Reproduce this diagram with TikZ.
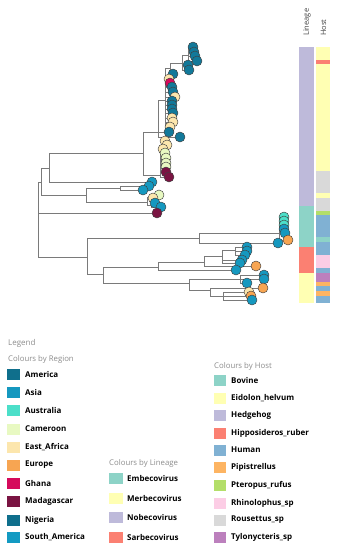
\documentclass[tikz,border=0pt]{standalone}
\usepackage{fontspec}
\setmainfont{Open Sans}
\usetikzlibrary{backgrounds}
\definecolor{treegray}{HTML}{7A7A7A}
\definecolor{hdrgray}{HTML}{8C8C8C}
\definecolor{cAme}{HTML}{0F6F8C}
\definecolor{cAsia}{HTML}{1598BF}
\definecolor{cAus}{HTML}{4CDFC9}
\definecolor{cCam}{HTML}{E8F9C2}
\definecolor{cEaf}{HTML}{FCE6AD}
\definecolor{cEur}{HTML}{F7A552}
\definecolor{cGha}{HTML}{D50A5B}
\definecolor{cMad}{HTML}{7A1442}
\definecolor{cNig}{HTML}{12799A}
\definecolor{cSam}{HTML}{139AC2}
\definecolor{hBov}{HTML}{8DD3C7}
\definecolor{hEid}{HTML}{FFFFB3}
\definecolor{hHed}{HTML}{BEBADA}
\definecolor{hHip}{HTML}{FB8072}
\definecolor{hHum}{HTML}{80B1D3}
\definecolor{hPip}{HTML}{FDB462}
\definecolor{hPte}{HTML}{B3DE69}
\definecolor{hRhi}{HTML}{FCCDE5}
\definecolor{hRou}{HTML}{D9D9D9}
\definecolor{hTyl}{HTML}{BC80BD}
\begin{document}
\begin{tikzpicture}[x=1pt,y=-1pt,
  br/.style={draw=treegray, line width=0.75pt},
  leaf/.style={circle, draw=black!75, line width=0.45pt, minimum size=10pt, inner sep=0pt},
  sw/.style={minimum width=13pt, minimum height=11pt, inner sep=0pt, anchor=west},
  lab/.style={font=\fontsize{8}{9}\selectfont\bfseries, anchor=west, inner sep=0pt},
  hdr/.style={font=\fontsize{7.8}{9}\selectfont, text=hdrgray, anchor=west, inner sep=0pt},
  collab/.style={font=\fontsize{7.5}{9}\selectfont, text=black!75, rotate=90, anchor=west, inner sep=0pt}]
\useasboundingbox (0,0) rectangle (337,550);

% internal nodes
\coordinate (R) at (38,220);
\coordinate (A) at (41,182);
\coordinate (B) at (49,168);
\coordinate (C) at (143,153);
\coordinate (D) at (158,132);
\coordinate (D1) at (165,100);
\coordinate (D2) at (170,68);
\coordinate (D3) at (182,63);
\coordinate (D4) at (188,55);
\coordinate (E) at (160,175);
\coordinate (E1) at (161,150);
\coordinate (F) at (86,195);
\coordinate (G) at (120,188);
\coordinate (H) at (147,202);
\coordinate (H1) at (150,197);
\coordinate (H2) at (151,205);
\coordinate (L) at (87,257);
\coordinate (M) at (199,238);
\coordinate (M1) at (279,233);
\coordinate (N) at (103,274);
\coordinate (O) at (158,267);
\coordinate (O1) at (204,262);
\coordinate (O2) at (222,256);
\coordinate (O3) at (235,250);
\coordinate (P) at (189,283);
\coordinate (P1) at (240,279);
\coordinate (P2) at (210,290);
\coordinate (P3) at (223,296);

% leaves
\foreach \n/\x/\y/\c in {
 1/193/47/cNig, 2/194/52/cNig, 3/195/56/cNig, 4/197/61/cNig, 5/188/65/cNig,
 6/189/70/cNig, 7/173/74/cNig, 8/169/79/cEaf, 9/170/83/cGha, 10/172/87/cNig,
 11/173/92/cNig, 12/175/97/cEaf, 13/172/101/cNig, 14/172/105/cNig, 15/172/109/cNig,
 16/173/113/cNig, 17/172/118/cEaf, 18/173/122/cEaf, 19/170/127/cEaf, 20/169/132/cNig,
 21/180/137/cNig, 22/165/141/cEaf, 23/167/145/cEaf, 24/163/149/cEaf, 25/165/153/cCam,
 26/166/158/cCam, 27/166/163/cCam, 28/166/167/cCam, 29/166/172/cMad, 30/169/177/cMad,
 31/152/182/cAsia, 32/149/186/cAsia, 33/143/190/cAsia, 34/159/195/cCam, 35/153/198/cEaf,
 36/155/203/cAsia, 37/161/207/cAsia, 38/157/213/cMad,
 39/284/217/cAus, 40/284/221/cAus, 41/284/225/cAus, 42/284/229/cAsia, 43/285/233/cAsia,
 44/288/240/cEur, 45/278/243/cAsia, 46/247/247/cAsia, 47/247/251/cAsia, 48/245/255/cAsia,
 49/242/260/cAsia, 50/240/263/cAsia, 51/256/266/cEur, 52/236/270/cAsia, 53/264/275/cAsia,
 54/264/279/cAsia, 55/247/283/cAsia, 56/263/288/cEur, 57/249/292/cEaf, 58/251/296/cEur,
 59/252/300/cAsia}
  \node[leaf, fill=\c] (l\n) at (\x,\y) {};

% branches
\begin{pgfonlayer}{background}
\foreach \p/\c in {R/A, R/l38, R/L, A/B, A/F, B/C, B/l31, C/D, C/E,
  D/D1, D/l21, D/l20, D1/D2, D1/l8, D1/l9, D1/l10, D1/l11, D1/l12, D1/l13, D1/l14,
  D1/l15, D1/l16, D1/l17, D1/l18, D1/l19, D2/D3, D2/l7, D3/D4, D3/l5, D3/l6,
  D4/l1, D4/l2, D4/l3, D4/l4, E/E1, E/l29, E/l30,
  E1/l22, E1/l23, E1/l24, E1/l25, E1/l26, E1/l27, E1/l28,
  F/G, F/H, G/l32, G/l33, H/H1, H/H2, H1/l34, H1/l35, H2/l36, H2/l37,
  L/M, L/N, M/M1, M/l45, M1/l39, M1/l40, M1/l41, M1/l42, M1/l43, M1/l44,
  N/O, N/P, O/O1, O/l52, O1/O2, O1/l51, O2/O3, O2/l49, O2/l50,
  O3/l46, O3/l47, O3/l48, P/P1, P/P2, P1/l53, P1/l54, P1/l55,
  P2/l56, P2/P3, P3/l57, P3/l58, P3/l59}
  \draw[br] (\p) |- (\c.center);
\end{pgfonlayer}

% heatmap bars
\node[collab] (tLin) at (307,36) {Lineage};
\node[collab] (tHost) at (323.5,36) {Host};
\foreach \a/\b/\c in {47/206/hHed, 206/247/hBov, 247/273/hHip, 273/303/hEid}
  \fill[\c] (299,\a) rectangle (314,\b);
\foreach \a/\b/\c in {47/60/hEid, 60/64/hHip, 64/171/hEid, 171/193/hRou, 193/198/hEid,
  198/211/hRou, 211/215/hPte, 215/237/hHum, 237/242/hBov, 242/255/hHum, 255/268/hRhi,
  268/273/hHum, 273/282/hTyl, 282/286/hPip, 286/291/hHum, 291/296/hPip, 296/303/hHum}
  \fill[\c] (316,\a) rectangle (330,\b);

% legend
\node[hdr, font=\fontsize{8}{9}\selectfont] (leg) at (8,343) {Legend};
\node[hdr] (hReg) at (8,359) {Colours by Region};
\foreach \i/\y/\c/\t in {1/374/cAme/America, 2/392/cAsia/Asia, 3/410/cAus/Australia,
  4/429/cCam/Cameroon, 5/447/cEaf/East\_Africa, 6/465/cEur/Europe, 7/483/cGha/Ghana,
  8/501/cMad/Madagascar, 9/520/cAme/Nigeria, 10/537/cSam/South\_America}{
  \node[sw, fill=\c] (rs\i) at (7,\y) {};
  \node[lab] (rt\i) at (25,\y) {\t};
}
\node[hdr] (hLin) at (109,463) {Colours by Lineage};
\foreach \i/\y/\c/\t in {1/478/hBov/Embecovirus, 2/498/hEid/Merbecovirus,
  3/517/hHed/Nobecovirus, 4/537/hHip/Sarbecovirus}{
  \node[sw, minimum width=14pt, fill=\c] (ls\i) at (109,\y) {};
  \node[lab] (lt\i) at (127,\y) {\t};
}
\node[hdr] (hHost) at (214,366) {Colours by Host};
\foreach \i/\y/\c/\t in {1/380/hBov/Bovine, 2/398/hEid/Eidolon\_helvum,
  3/415/hHed/Hedgehog, 4/433/hHip/Hipposideros\_ruber, 5/450/hHum/Human,
  6/467/hPip/Pipistrellus, 7/485/hPte/Pteropus\_rufus, 8/503/hRhi/Rhinolophus\_sp,
  9/520/hRou/Rousettus\_sp, 10/537/hTyl/Tylonycteris\_sp}{
  \node[sw, minimum width=12pt, fill=\c] (hs\i) at (214,\y) {};
  \node[lab] (ht\i) at (231,\y) {\t};
}
\end{tikzpicture}
\end{document}
